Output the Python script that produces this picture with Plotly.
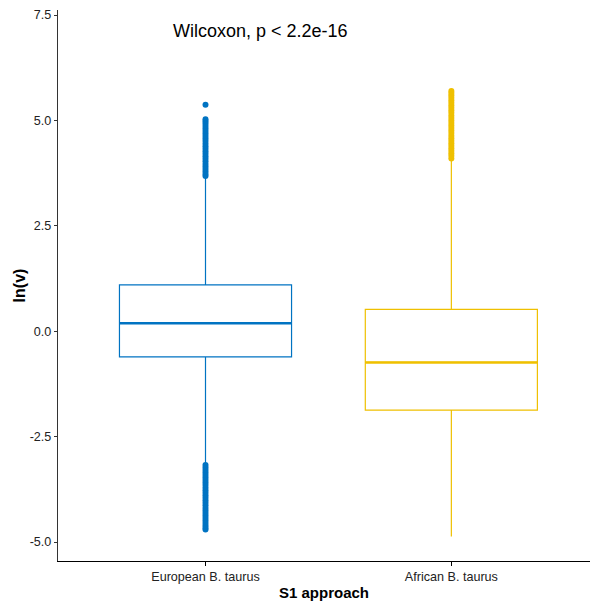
import plotly.graph_objects as go

categories = ["European B. taurus", "African B. taurus"]
colors = ["#0073C2", "#EFC000"]
q1 = [-0.61, -1.87]
median = [0.19, -0.74]
q3 = [1.10, 0.52]
lower_whisker = [-3.15, -4.87]
upper_whisker = [3.66, 4.08]
eu_outliers = [3.68, 3.73, 3.79, 3.85, 3.91, 3.97, 4.03, 4.09, 4.15, 4.21, 4.27, 4.33,
               4.39, 4.45, 4.51, 4.57, 4.63, 4.69, 4.75, 4.81, 4.87, 4.93, 4.98, 5.03, 5.37,
               -3.17, -3.23, -3.29, -3.35, -3.41, -3.47, -3.53, -3.59, -3.65, -3.71, -3.77,
               -3.83, -3.89, -3.95, -4.01, -4.07, -4.13, -4.19, -4.25, -4.31, -4.37, -4.43,
               -4.49, -4.55, -4.61, -4.66, -4.70]
af_outliers = [4.10, 4.16, 4.22, 4.28, 4.34, 4.40, 4.46, 4.52, 4.58, 4.64, 4.70, 4.76,
               4.82, 4.88, 4.94, 5.00, 5.06, 5.12, 5.18, 5.24, 5.30, 5.36, 5.42, 5.48,
               5.54, 5.60, 5.65, 5.70]
outliers = [eu_outliers, af_outliers]
y_ticks = [-5.0, -2.5, 0.0, 2.5, 5.0, 7.5]
annotation_text = "Wilcoxon, p < 2.2e-16"

box_w = 0.70
fig = go.Figure()
for i, cat in enumerate(categories):
    xpos = i + 1
    fig.add_trace(go.Box(
        x=[xpos], q1=[q1[i]], median=[median[i]], q3=[q3[i]],
        lowerfence=[lower_whisker[i]], upperfence=[upper_whisker[i]],
        width=box_w, whiskerwidth=0, boxpoints=False,
        line=dict(color=colors[i], width=1.2), fillcolor="rgba(255,255,255,0)",
        name=cat, showlegend=False, hoverinfo="skip"))
    fig.add_trace(go.Scatter(
        x=[xpos - box_w / 2, xpos + box_w / 2], y=[median[i], median[i]],
        mode="lines", line=dict(color=colors[i], width=2.6),
        showlegend=False, hoverinfo="skip"))
    fig.add_trace(go.Scatter(
        x=[xpos] * len(outliers[i]), y=outliers[i], mode="markers",
        marker=dict(color=colors[i], size=6, line=dict(width=0)),
        showlegend=False, hoverinfo="skip"))

fig.add_annotation(text=annotation_text, xref="paper", yref="y", x=0.2124, y=7.12,
                   xanchor="left", yanchor="middle", showarrow=False,
                   font=dict(family="Liberation Sans, Arial, sans-serif", size=18, color="black"))

fig.update_layout(
    width=590, height=601,
    margin=dict(l=58, r=0, t=10, b=40, autoexpand=False),
    plot_bgcolor="white", paper_bgcolor="white",
    font=dict(family="Liberation Sans, Arial, sans-serif", color="black"),
)
fig.update_xaxes(
    range=[0.4, 2.564], tickmode="array", tickvals=[1, 2], ticktext=categories,
    showline=True, linecolor="black", linewidth=1, showgrid=False, zeroline=False,
    ticks="outside", ticklen=4, tickcolor="black", automargin=False,
    tickfont=dict(size=12.6, color="#222"),
    title=dict(text="<b>S1 approach</b>", font=dict(size=15, color="black"), standoff=4),
)
fig.update_yaxes(
    range=[-5.45, 7.62], tickmode="array", tickvals=y_ticks,
    ticktext=[f"{v:.1f}" for v in y_ticks],
    showline=True, linecolor="#333", linewidth=1.2, showgrid=False, zeroline=False,
    ticks="outside", ticklen=3, tickcolor="#333", automargin=False,
    tickfont=dict(size=12.6, color="#222"),
    title=dict(text="<b>ln(v)</b>", font=dict(size=16, color="black"), standoff=0),
)

fig.write_html("out.html", config={"displayModeBar": False},
               post_script="document.body.style.margin='0';document.body.style.overflow='hidden';")
